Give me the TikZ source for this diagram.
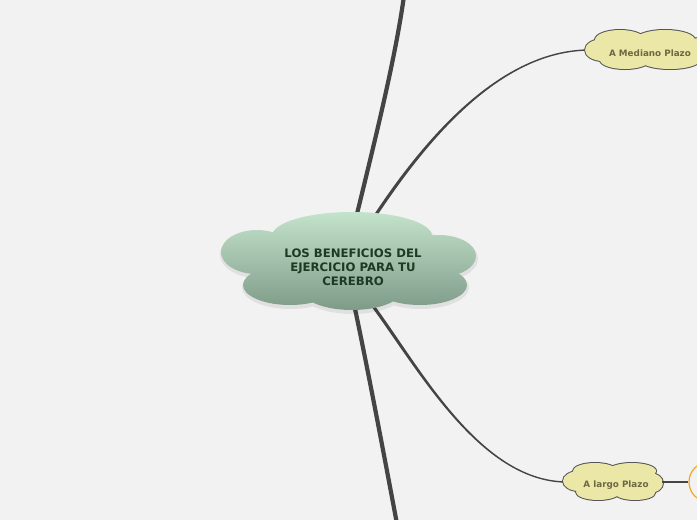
\documentclass[tikz,border=0pt]{standalone}
\usepackage{fontspec}
\setmainfont{DejaVu Sans}
\usetikzlibrary{calc}
\definecolor{bg}{HTML}{F2F2F2}
\definecolor{ln}{HTML}{444444}
\definecolor{gtop}{HTML}{C4E3CB}
\definecolor{gbot}{HTML}{7E9B88}
\definecolor{ctext}{HTML}{1F3A24}
\definecolor{yfill}{HTML}{EBE7A7}
\definecolor{ytext}{HTML}{6B6942}
\definecolor{yborder}{HTML}{555555}
\definecolor{orng}{HTML}{F5A623}
\newcommand\lobesCentral{352/236/80/24, 257/252/36/22, 439/256/37/21, 290/285/47/20, 420/285/47/20, 352/290/50/20, 350/262/100/35}
\newcommand\lobesMed{620/40/25/10, 665/40/30/10, 603/50/18/11, 625/60/25/9, 670/60/30/9, 700/50/15/12, 648/50/50/14}
\newcommand\lobesLar{579/481/16/10, 595/471/22/8, 632/471/24/8, 650/483/13/10, 598/492/22/8, 635/493/20/7, 613/482/40/12}
\tikzset{
  trunk/.style={draw=ln, line width=4.2pt, line cap=round},
  thinlink/.style={draw=ln, line width=1.3pt},
  centraltext/.style={font=\bfseries\fontsize{11.7}{14}\selectfont, text=ctext, align=center},
  subtext/.style={font=\bfseries\fontsize{8.8}{10}\selectfont, text=ytext},
}
\begin{document}
\begin{tikzpicture}[x=1pt,y=-1pt]
\useasboundingbox (0,0) rectangle (697,520);
\clip (0,0) rectangle (697,520);
\fill[bg] (0,0) rectangle (697,520);

% named end points
\coordinate (tTop) at (404,-4);
\coordinate (sTop) at (356,218);
\coordinate (tBot) at (397,524);
\coordinate (sBot) at (354,304);
\coordinate (s1) at (373,219);
\coordinate (mIn) at (590,50);
\coordinate (s2) at (373,306);
\coordinate (lIn) at (565,482);
\coordinate (lOut) at (662,482);

% trunks
\draw[trunk] (sTop) .. controls (375,140) and (395,60) .. (tTop);
\draw[trunk] (sBot) .. controls (368,370) and (385,460) .. (tBot);

% tapered branches
\fill[ln] ($(s1)+(1.3,0.9)$) .. controls (426.3,140.9) and (500,50.7) .. ($(mIn)+(0,0.7)$)
  -- ($(mIn)+(0,-0.7)$) .. controls (500,49.3) and (423.7,139.1) .. ($(s1)+(-1.3,-0.9)$) -- cycle;
\fill[ln] ($(s2)+(1.25,-0.95)$) .. controls (421.25,369.05) and (480,479.3) .. ($(lIn)+(0,-0.7)$)
  -- ($(lIn)+(0,0.7)$) .. controls (480,480.7) and (418.75,370.95) .. ($(s2)+(-1.25,0.95)$) -- cycle;

% central cloud
\begin{scope}[shift={(0.5,2.5)}]
\fill[black, opacity=0.07] \foreach \x/\y/\a/\b in \lobesCentral { (\x,\y) ellipse [x radius=\a pt+1.5pt, y radius=\b pt+1.5pt] };
\end{scope}
\shade[top color=gtop, bottom color=gbot] \foreach \x/\y/\a/\b in \lobesCentral { (\x,\y) ellipse [x radius=\a pt, y radius=\b pt] };
\node[centraltext] (c) at (353,267.5) {LOS BENEFICIOS DEL\\EJERCICIO PARA TU\\CEREBRO};

% A Mediano Plazo
\path[draw=yborder, line width=2pt] \foreach \x/\y/\a/\b in \lobesMed { (\x,\y) ellipse [x radius=\a pt, y radius=\b pt] };
\path[fill=yfill] \foreach \x/\y/\a/\b in \lobesMed { (\x,\y) ellipse [x radius=\a pt, y radius=\b pt] };
\node[subtext] (m) at (650,53) {A Mediano Plazo};

% A largo Plazo
\path[draw=yborder, line width=2pt] \foreach \x/\y/\a/\b in \lobesLar { (\x,\y) ellipse [x radius=\a pt, y radius=\b pt] };
\path[fill=yfill] \foreach \x/\y/\a/\b in \lobesLar { (\x,\y) ellipse [x radius=\a pt, y radius=\b pt] };
\node[subtext] (l) at (616,485) {A largo Plazo};

% orange circle
\node[circle, draw=orng, line width=1.2pt, minimum size=40pt, inner sep=0pt] (o) at (709,482) {};
\draw[thinlink] (lOut) -- (o.west);
\end{tikzpicture}
\end{document}
